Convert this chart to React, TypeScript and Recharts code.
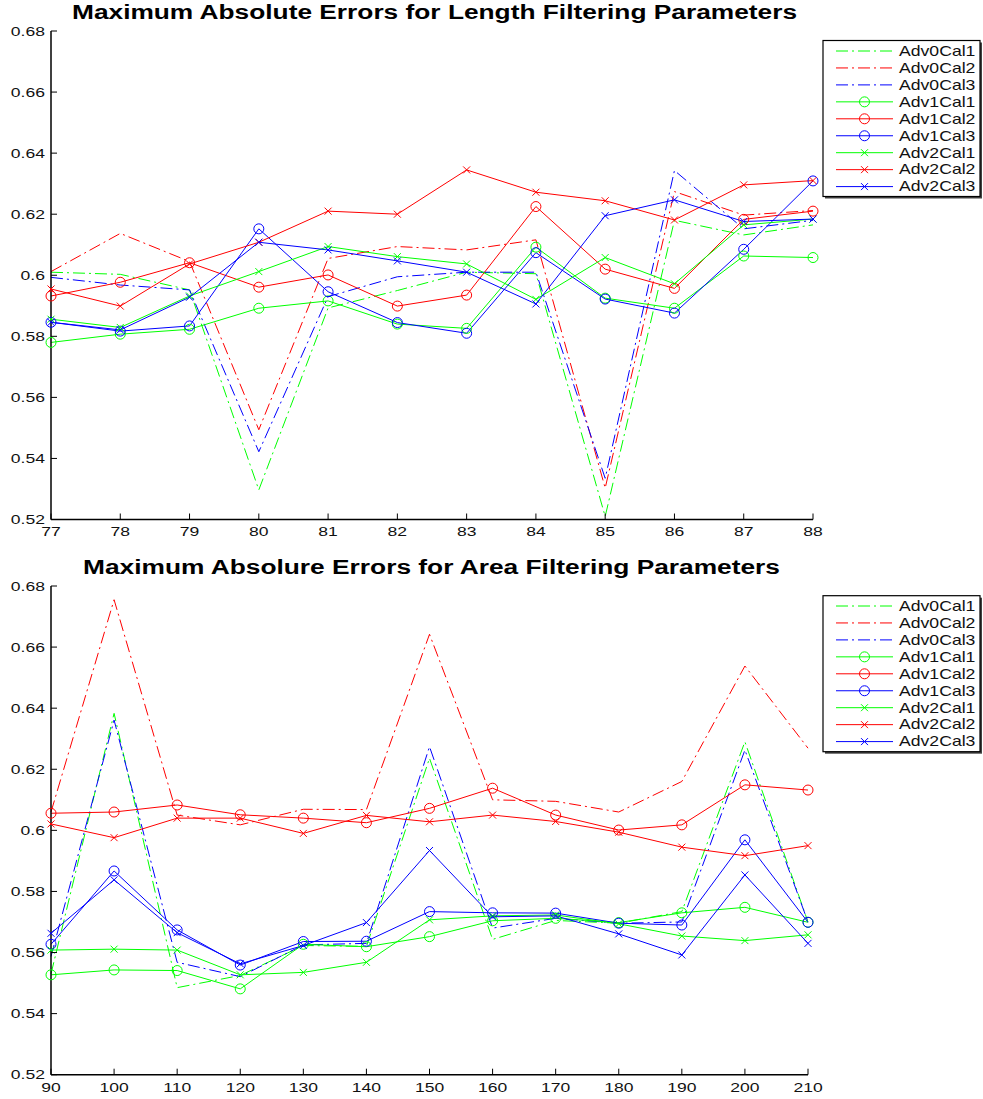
import React from 'react';
import { LineChart, Line, XAxis, YAxis } from 'recharts';

// ---------- data: Length filtering ----------
const lengthParams = [77, 78, 79, 80, 81, 82, 83, 84, 85, 86, 87, 88];
const lenAdv0Cal1 = [0.601, 0.6003, 0.5952, 0.5297, 0.5893, 0.595, 0.601, 0.6005, 0.521, 0.618, 0.6132, 0.6165];
const lenAdv0Cal2 = [0.6012, 0.6137, 0.6045, 0.5494, 0.6055, 0.6094, 0.6083, 0.6116, 0.5303, 0.6274, 0.6197, 0.6212];
const lenAdv0Cal3 = [0.5993, 0.5968, 0.5952, 0.5422, 0.593, 0.5995, 0.601, 0.601, 0.5335, 0.6343, 0.6152, 0.618];
const lenAdv1Cal1 = [0.578, 0.5807, 0.5823, 0.5892, 0.5916, 0.584, 0.5826, 0.6092, 0.5925, 0.5892, 0.6063, 0.6058];
const lenAdv1Cal2 = [0.5932, 0.5977, 0.6041, 0.5961, 0.6001, 0.5899, 0.5935, 0.6225, 0.602, 0.5957, 0.6183, 0.621];
const lenAdv1Cal3 = [0.5846, 0.5817, 0.5834, 0.6152, 0.5946, 0.5845, 0.581, 0.6074, 0.5922, 0.5876, 0.6085, 0.6309];
const lenAdv2Cal1 = [0.5856, 0.5829, 0.5932, 0.6012, 0.6094, 0.6061, 0.6037, 0.5921, 0.6058, 0.5972, 0.6165, 0.6184];
const lenAdv2Cal2 = [0.5955, 0.5899, 0.6037, 0.6108, 0.621, 0.62, 0.6345, 0.6272, 0.6244, 0.6181, 0.6296, 0.631];
const lenAdv2Cal3 = [0.5846, 0.5821, 0.5928, 0.6108, 0.6083, 0.6047, 0.601, 0.5906, 0.6195, 0.6247, 0.6176, 0.6184];

// ---------- data: Area filtering ----------
const areaParams = [90, 100, 110, 120, 130, 140, 150, 160, 170, 180, 190, 200, 210];
const areaAdv0Cal1 = [0.553, 0.6383, 0.5485, 0.5525, 0.5623, 0.562, 0.6236, 0.5643, 0.5705, 0.5696, 0.5734, 0.629, 0.57];
const areaAdv0Cal2 = [0.606, 0.6755, 0.605, 0.6018, 0.6069, 0.6068, 0.6642, 0.61, 0.6095, 0.606, 0.616, 0.6538, 0.6269];
const areaAdv0Cal3 = [0.5587, 0.6361, 0.5568, 0.5521, 0.5625, 0.563, 0.6274, 0.568, 0.5712, 0.5696, 0.57, 0.6263, 0.57];
const areaAdv1Cal1 = [0.5527, 0.5543, 0.5541, 0.5481, 0.5627, 0.5619, 0.5652, 0.5704, 0.5712, 0.5698, 0.573, 0.5748, 0.5699];
const areaAdv1Cal2 = [0.6056, 0.606, 0.6083, 0.6051, 0.604, 0.6025, 0.6072, 0.6138, 0.605, 0.6001, 0.6018, 0.6149, 0.6132];
const areaAdv1Cal3 = [0.5627, 0.5867, 0.5674, 0.5559, 0.5636, 0.5637, 0.5734, 0.573, 0.5729, 0.5696, 0.569, 0.5969, 0.5699];
const areaAdv2Cal1 = [0.5608, 0.5611, 0.5608, 0.5527, 0.5535, 0.5568, 0.5707, 0.572, 0.5723, 0.5694, 0.5654, 0.5639, 0.5658];
const areaAdv2Cal2 = [0.6021, 0.5976, 0.604, 0.604, 0.599, 0.6049, 0.6028, 0.605, 0.6029, 0.5994, 0.5945, 0.5917, 0.595];
const areaAdv2Cal3 = [0.5663, 0.5838, 0.5665, 0.5563, 0.5623, 0.5698, 0.5934, 0.5717, 0.572, 0.5661, 0.5592, 0.5854, 0.563];

const yTicks = [0.52, 0.54, 0.56, 0.58, 0.6, 0.62, 0.64, 0.66, 0.68];
const lengthTitle = 'Maximum Absolute Errors for Length Filtering Parameters';
const areaTitle = 'Maximum Absolure Errors for Area Filtering Parameters';

const seriesNames = ['Adv0Cal1', 'Adv0Cal2', 'Adv0Cal3', 'Adv1Cal1', 'Adv1Cal2', 'Adv1Cal3', 'Adv2Cal1', 'Adv2Cal2', 'Adv2Cal3'];
const seriesColors = ['#00ff00', '#ff0000', '#0000ff', '#00ff00', '#ff0000', '#0000ff', '#00ff00', '#ff0000', '#0000ff'];
const seriesMarkers = ['none', 'none', 'none', 'circle', 'circle', 'circle', 'x', 'x', 'x'];

const lengthSeries = [lenAdv0Cal1, lenAdv0Cal2, lenAdv0Cal3, lenAdv1Cal1, lenAdv1Cal2, lenAdv1Cal3, lenAdv2Cal1, lenAdv2Cal2, lenAdv2Cal3];
const areaSeries = [areaAdv0Cal1, areaAdv0Cal2, areaAdv0Cal3, areaAdv1Cal1, areaAdv1Cal2, areaAdv1Cal3, areaAdv2Cal1, areaAdv2Cal2, areaAdv2Cal3];

const buildRows = (xs: number[], series: number[][]) =>
  xs.map((x, i) => {
    const row: any = { x };
    seriesNames.forEach((n, k) => {
      row[n] = series[k][i];
    });
    return row;
  });

const lengthRows = buildRows(lengthParams, lengthSeries);
const areaRows = buildRows(areaParams, areaSeries);

const FONT = "'Liberation Sans', Arial, Helvetica, sans-serif";
const DASH = '12 4 2 4';
const TICK = 6;

const fmt = (v: number) => String(Number(v.toFixed(2)));

const SText = ({ x, y, anchor, size, sx, children }: any) => (
  <g transform={`translate(${x},${y}) scale(${sx},1)`}>
    <text x={0} y={0} textAnchor={anchor} dominantBaseline="central" fontSize={size} fontFamily={FONT} fill="#111">
      {children}
    </text>
  </g>
);

const makeBottomTick = (gap: number) => (props: any) => {
  const { x, y, payload } = props;
  return (
    <g>
      <line x1={x} y1={y} x2={x} y2={y - TICK} stroke="#000" strokeWidth={1} />
      <SText x={x} y={y + gap} anchor="middle" size={13.5} sx={1.3}>
        {fmt(payload.value)}
      </SText>
    </g>
  );
};

const LeftTick = (props: any) => {
  const { x, y, payload } = props;
  return (
    <g>
      <line x1={x} y1={y} x2={x + TICK} y2={y} stroke="#000" strokeWidth={1} />
      <SText x={x - 6} y={y} anchor="end" size={13.5} sx={1.3}>
        {fmt(payload.value)}
      </SText>
    </g>
  );
};

const TopTick = (props: any) => {
  const { x, y } = props;
  return <line x1={x} y1={y} x2={x} y2={y + TICK} stroke="#000" strokeWidth={1} />;
};

const RightTick = (props: any) => {
  const { x, y } = props;
  return <line x1={x} y1={y} x2={x - TICK} y2={y} stroke="#000" strokeWidth={1} />;
};

const Marker = ({ cx, cy, kind, color }: any) => {
  if (cx == null || cy == null) return <g />;
  if (kind === 'circle') return <circle cx={cx} cy={cy} r={5} fill="none" stroke={color} strokeWidth={1} />;
  if (kind === 'x') {
    const s = 3.5;
    return (
      <g stroke={color} strokeWidth={1}>
        <line x1={cx - s} y1={cy - s} x2={cx + s} y2={cy + s} />
        <line x1={cx - s} y1={cy + s} x2={cx + s} y2={cy - s} />
      </g>
    );
  }
  return <g />;
};

const axisLine = { stroke: '#000', strokeWidth: 1.5 };

const Panel = ({ rows, xTicks, width, height, margin, xAxisHeight, labelGap }: any) => (
  <LineChart width={width} height={height} data={rows} margin={margin}>
    <XAxis
      xAxisId="b"
      dataKey="x"
      type="number"
      domain={[xTicks[0], xTicks[xTicks.length - 1]]}
      ticks={xTicks}
      interval={0}
      height={xAxisHeight}
      tickSize={0}
      tickMargin={0}
      tickLine={false}
      axisLine={axisLine}
      tick={makeBottomTick(labelGap)}
    />
    <XAxis
      xAxisId="t"
      orientation="top"
      dataKey="x"
      type="number"
      domain={[xTicks[0], xTicks[xTicks.length - 1]]}
      ticks={xTicks}
      interval={0}
      height={0}
      tickSize={0}
      tickMargin={0}
      tickLine={false}
      axisLine={axisLine}
      tick={TopTick}
    />
    <YAxis
      yAxisId="l"
      type="number"
      domain={[0.52, 0.68]}
      ticks={yTicks}
      interval={0}
      width={51}
      tickSize={0}
      tickMargin={0}
      tickLine={false}
      axisLine={axisLine}
      tick={LeftTick}
    />
    <YAxis
      yAxisId="r"
      orientation="right"
      type="number"
      domain={[0.52, 0.68]}
      ticks={yTicks}
      interval={0}
      width={0}
      tickSize={0}
      tickMargin={0}
      tickLine={false}
      axisLine={axisLine}
      tick={RightTick}
    />
    {seriesNames.map((n, k) => (
      <Line
        key={n}
        xAxisId="b"
        yAxisId="l"
        dataKey={n}
        type="linear"
        stroke={seriesColors[k]}
        strokeWidth={1}
        strokeDasharray={seriesMarkers[k] === 'none' ? DASH : undefined}
        isAnimationActive={false}
        activeDot={false}
        dot={(p: any) => <Marker key={`${n}-${p.index}`} cx={p.cx} cy={p.cy} kind={seriesMarkers[k]} color={seriesColors[k]} />}
      />
    ))}
  </LineChart>
);

const LegendBox = ({ x, y, rowStart, rowStep }: any) => (
  <g>
    <rect x={x + 2} y={y + 2} width={157} height={156} fill="#444" />
    <rect x={x} y={y} width={157} height={156} fill="#fff" stroke="#000" strokeWidth={1.2} />
    {seriesNames.map((n, k) => {
      const cy = rowStart + k * rowStep;
      return (
        <g key={n}>
          <line
            x1={836}
            y1={cy}
            x2={893}
            y2={cy}
            stroke={seriesColors[k]}
            strokeWidth={1}
            strokeDasharray={seriesMarkers[k] === 'none' ? DASH : undefined}
          />
          <Marker cx={864.5} cy={cy} kind={seriesMarkers[k]} color={seriesColors[k]} />
          <SText x={899} y={cy} anchor="start" size={14} sx={1.26}>
            {n}
          </SText>
        </g>
      );
    })}
  </g>
);

export default function App() {
  return (
    <div style={{ position: 'absolute', left: 0, top: 0, width: 983, height: 1099, background: '#fff', overflow: 'hidden' }}>
      <div style={{ position: 'absolute', left: 0, top: 0 }}>
        <Panel
          rows={lengthRows}
          xTicks={lengthParams}
          width={983}
          height={545}
          margin={{ top: 31, right: 170, bottom: 0, left: 0 }}
          xAxisHeight={25.5}
          labelGap={11.5}
        />
      </div>
      <div style={{ position: 'absolute', left: 0, top: 550 }}>
        <Panel
          rows={areaRows}
          xTicks={areaParams}
          width={983}
          height={549}
          margin={{ top: 36, right: 175, bottom: 0, left: 0 }}
          xAxisHeight={24.3}
          labelGap={12.3}
        />
      </div>
      <svg width={983} height={1099} style={{ position: 'absolute', left: 0, top: 0, pointerEvents: 'none' }}>
        <text x={72} y={18.5} textLength={725} lengthAdjust="spacingAndGlyphs" fontSize={20} fontWeight="bold" fontFamily={FONT} fill="#000">
          {lengthTitle}
        </text>
        <text x={83} y={573.5} textLength={697} lengthAdjust="spacingAndGlyphs" fontSize={20} fontWeight="bold" fontFamily={FONT} fill="#000">
          {areaTitle}
        </text>
        <LegendBox x={823} y={40.5} rowStart={51} rowStep={16.95} />
        <LegendBox x={823} y={595.7} rowStart={606} rowStep={16.95} />
      </svg>
    </div>
  );
}
